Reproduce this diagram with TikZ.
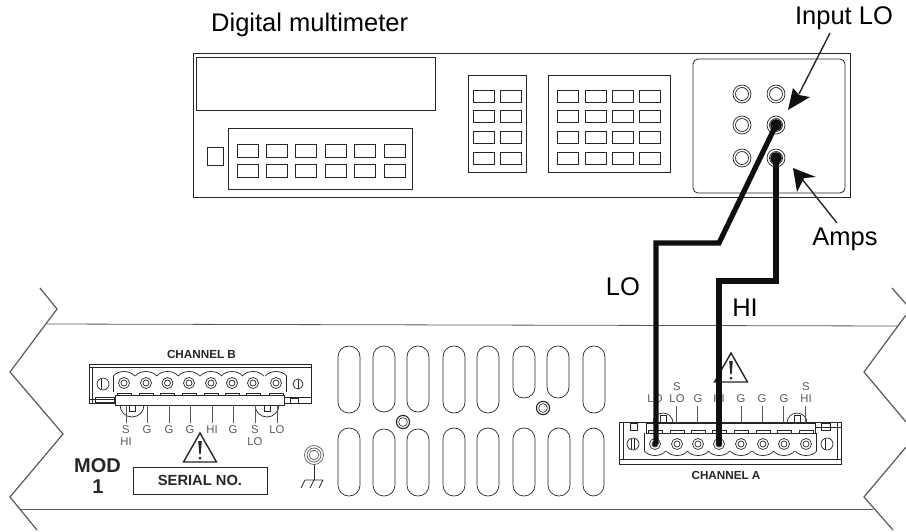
\documentclass[tikz,border=0pt]{standalone}
\usepackage{fontspec}
\setmainfont{Liberation Sans}
\definecolor{ink}{gray}{0.15}
\definecolor{soft}{gray}{0.35}
\tikzset{
  x=1pt,y=-1pt,
  panel/.style={draw=ink,line width=0.8pt},
  btn/.style={draw=ink,line width=0.9pt},
  edgeline/.style={draw=soft,line width=1.2pt,line join=miter},
  slot/.style={draw=ink,line width=0.7pt},
  wire/.style={draw=ink!40!black,line width=5.2pt,line join=miter},
  pointer/.style={draw=ink,line width=1.4pt},
  arrowfill/.style={fill=ink!40!black,draw=none},
  jack/.style={circle,draw=ink,line width=0.7pt,fill=white,inner sep=0pt,minimum size=18pt},
  big/.style={font=\fontsize{25.5}{28}\selectfont,inner sep=0pt,text=black},
  pinlabel/.style={font=\fontsize{11.3}{12}\selectfont,inner sep=0pt,text=soft},
  chancap/.style={font=\bfseries\fontsize{11.7}{12}\selectfont,inner sep=0pt,text=ink},
  term/.style={circle,draw=ink,line width=0.7pt,fill=white,inner sep=0pt,minimum size=11pt},
  lead/.style={draw=soft,line width=0.6pt},
}
\newcommand{\btnbox}[2]{\draw[btn] (#1,#2) rectangle +(21.5,12.5);}
\newcommand{\warn}[2]{%
  \draw[draw=ink,line width=1.4pt,fill=white,line join=miter] (#1,#2) -- ++(-16.5,29) -- ++(33,0) -- cycle;
  \fill[ink] (#1-1.8,#2+8) -- (#1+1.8,#2+8) -- (#1+0.7,#2+21) -- (#1-0.7,#2+21) -- cycle;
  \fill[ink] (#1,#2+25) circle[radius=1.5];}
\begin{document}
\begin{tikzpicture}
\useasboundingbox (0,0) rectangle (906,531);
\fill[white] (0,0) rectangle (906,531);
% ---------- multimeter
\node[big,anchor=west] (dmmlabel) at (211,25) {Digital multimeter};
\draw[panel] (193,53) rectangle (850,197);
\draw[panel] (196,57) rectangle (435,110);
\draw[panel] (207,147) rectangle (223,165);
\draw[panel] (228,128) rectangle (412,189);
\foreach \xx in {237,266,295,325,354,384}{\btnbox{\xx}{144.5}\btnbox{\xx}{164.5}}
\draw[panel] (468,75) rectangle (526,172);
\foreach \xx in {473,500}\foreach \yy in {90,110,131,152}{\btnbox{\xx}{\yy}}
\draw[panel] (548,75) rectangle (670,172);
\foreach \xx in {557,585,612,639}\foreach \yy in {90,110,131,152}{\btnbox{\xx}{\yy}}
\draw[panel,rounded corners=5pt] (693,59) rectangle (845,193);
\foreach \nm/\xx/\yy in {ja/742/94,jb/776/94,jc/742/125,jd/776/125,je/742/158,jf/776/158}{
  \node[jack] (\nm) at (\xx,\yy) {};
  \draw[ink,line width=0.7pt] (\xx,\yy) circle[radius=6.5];
}
\fill[ink!40!black] (jd.center) circle[radius=5.8];
\fill[ink!40!black] (jf.center) circle[radius=5.8];
% ---------- chassis
\draw[edgeline] (40,288) -- (57,309) -- (10,372) -- (63,434) -- (10,497) -- (37,530);
\draw[edgeline] (892,288) -- (906,304);
\draw[edgeline] (906,315) -- (864,372) -- (906,422);
\draw[edgeline] (906,447) -- (864,497) -- (893,530);
\draw[soft,line width=0.8pt] (47,324) -- (898,326);
\draw[soft,line width=0.8pt] (21,509) -- (873,509);
% ---------- slots
\foreach \xa/\xb/\ya/\yb in {338/360/346/413,373/395/346/412,407/429/346/412,443/465/346/413,477/499/346/413,513/535/346/398,547/569/346/398,583/605/346/413,
  338/360/428/496,373/395/429/496,407/429/429/496,443/465/428/496,477/499/428/496,513/535/428/496,548/570/428/496,583/604/428/496}{
  \draw[slot,rounded corners=10.9pt] (\xa,\ya) rectangle (\xb,\yb);
}
\foreach \xx/\yy in {403/422,543/408}{
  \draw[ink,line width=1.1pt] (\xx,\yy) circle[radius=6.6];
  \draw[ink,line width=0.6pt] (\xx,\yy) circle[radius=4.4];
}
% ---------- channel B
\node[chancap] (chb) at (201.5,354) {CHANNEL B};
\foreach \cx in {132,267}{
  \draw[ink,line width=0.7pt,fill=white] (\cx-12,405) arc[start angle=180,end angle=0,radius=12];
  \draw[ink,line width=0.7pt,fill=white] (\cx-3,405) rectangle (\cx+3,411);
}
\draw[ink,line width=0.7pt,fill=white] (89,364) rectangle (311,403);
\draw[ink,line width=0.7pt] (89,367.5) -- (311,367.5) (92.5,367.5) -- (92.5,403);
\draw[ink,line width=0.7pt] (90,399) -- (115,399) (95,397) rectangle (114,402);
\draw[ink,line width=0.7pt] (284,397) -- (311,397) (290,398) rectangle (298,403);
\foreach \cx in {132,267}{
  \draw[ink,line width=0.7pt,fill=white] (\cx-3,403) rectangle (\cx+3,411);
}
\draw[ink,line width=0.9pt,fill=white] (115,395) rectangle (284,405);
\foreach \cx in {124,146,167.5,189,211,232,253,276}{
  \draw[ink,line width=0.7pt] (\cx-10.7,376) .. controls (\cx-6,370) and (\cx+6,370) .. (\cx+10.7,376);
  \node[term] at (\cx,383) {};
  \draw[ink,line width=0.7pt] (\cx,383) circle[radius=3];
  \draw[ink,line width=0.6pt] (\cx-7,395) -- (\cx-7,393.5) -- (\cx+7,393.5) -- (\cx+7,395);
}
\draw[ink,line width=0.7pt] (113.3,376) -- (113.3,392) (286.7,376) -- (286.7,392);
\draw[ink,line width=0.7pt] (103,384) circle[radius=6];
\draw[ink,line width=1pt] (101,379) -- (101,389);
\draw[ink,line width=0.7pt] (298,384) circle[radius=5];
\draw[ink,line width=1pt] (298,379.5) -- (298,388.5);
\foreach \xx in {126,147,169,190,212,233,255,277}{\draw[lead] (\xx,405) -- (\xx,423);}
\foreach \xx/\yy/\tx in {126/430/S,126/442/HI,147/430/G,169/430/G,190/430/G,212/430/HI,233/430/G,255/430/S,255/442/LO,277/430/LO}{
  \node[pinlabel] at (\xx,\yy) {\tx};
}
% ---------- mod / serial
\node[font=\bfseries\fontsize{20}{22}\selectfont,inner sep=0pt,text=ink] (mod) at (97.5,466) {MOD};
\node[font=\bfseries\fontsize{20}{22}\selectfont,inner sep=0pt,text=ink] (modn) at (98,487) {1};
\warn{200}{433}
\node[draw=ink,line width=0.8pt,minimum width=134pt,minimum height=27pt,inner sep=0pt,
      font=\bfseries\fontsize{14.7}{16}\selectfont,text=ink] (serial) at (200,480.5) {SERIAL NO.};
% ---------- ground
\node[circle,draw=soft,line width=0.7pt,inner sep=0pt,minimum size=19pt] (gnd) at (314,455) {};
\draw[soft,line width=0.7pt] (gnd.center) circle[radius=7];
\draw[soft,line width=0.7pt] (gnd.center) circle[radius=4.8];
\coordinate (gndbar) at (314,480);
\draw[ink,line width=0.7pt] (gnd) -- (gndbar);
\draw[ink,line width=0.7pt] (305,480) -- (323,480) (305,480) -- (301,488) (314,480) -- (310,488) (323,480) -- (319,488);
% ---------- channel A
\foreach \cx in {663,797}{
  \draw[ink,line width=0.7pt,fill=white] (\cx-10,423) arc[start angle=180,end angle=360,radius=10];
  \draw[ink,line width=0.7pt,fill=white] (\cx-3,415) rectangle (\cx+3,423);
}
\draw[ink,line width=0.7pt,fill=white] (619,422) rectangle (841,464);
\draw[ink,line width=0.7pt] (619,459.5) -- (841,459.5) (623,422) -- (623,459.5) (837,422) -- (837,459.5);
\draw[ink,line width=0.7pt] (630,423) rectangle (637,430) (815,427) -- (841,427) (821,423) rectangle (830,430);
\draw[ink,line width=0.9pt,fill=white] (646,423) rectangle (815,433);
\foreach \nm/\cx in {ta1/655,ta2/677,ta3/698,ta4/719,ta5/741,ta6/763,ta7/784,ta8/806}{
  \draw[ink,line width=0.7pt] (\cx-10.7,451) .. controls (\cx-6,457) and (\cx+6,457) .. (\cx+10.7,451);
  \node[term] (\nm) at (\cx,444) {};
  \draw[ink,line width=0.7pt] (\cx,444) circle[radius=3];
  \draw[ink,line width=0.6pt] (\cx-7,433) -- (\cx-7,430.5) -- (\cx+7,430.5) -- (\cx+7,433);
}
\draw[ink,line width=0.7pt] (644.3,433) -- (644.3,451) (816.7,433) -- (816.7,451);
\draw[ink,line width=0.7pt] (633,444) circle[radius=6];
\draw[ink,line width=1pt] (631,439) -- (631,449) (634,439) -- (634,449);
\draw[ink,line width=0.7pt] (827,444) circle[radius=6];
\draw[ink,line width=1pt] (825,439) -- (825,449);
\foreach \xx in {676,697,719,741,762,783,805}{\draw[lead] (\xx,406) -- (\xx,423);}
\foreach \xx/\yy/\tx in {655/399/LO,677/387/S,677/399/LO,698/399/G,719/399/HI,741/399/G,762/399/G,784/399/G,806/387/S,806/399/HI}{
  \node[pinlabel] at (\xx,\yy) {\tx};
}
\node[chancap] (cha) at (726,475) {CHANNEL A};
\warn{731}{353}
% ---------- wires
\coordinate (loa) at (719,243);
\coordinate (lob) at (656,243);
\coordinate (hia) at (777,281);
\coordinate (hib) at (719,281);
\draw[wire] (jd.center) -- (loa) -- (lob) -- (lob |- ta1.center);
\draw[wire] (jf.center) -- (jf.center |- hia) -- (hib) -- (ta4.center);
\fill[ink!40!black] (ta1.center) circle[radius=2.6];
\fill[ink!40!black] (ta4.center) circle[radius=2.6];
\node[big,anchor=center] (lolabel) at (623,287) {LO};
\node[big,anchor=center] (hilabel) at (745,308) {HI};
% ---------- pointers
\node[big,anchor=center] (inputlo) at (844,18) {Input LO};
\node[big,anchor=center] (amps) at (845,239) {Amps};
\coordinate (ptrA) at (799,94);
\coordinate (ptrB) at (802,179);
\coordinate (srcA) at (830,33);
\coordinate (srcB) at (837,223);
\draw[pointer] (srcA) -- (ptrA);
\fill[arrowfill] (788,110) -- (810,97) -- (799,95) -- (793,88) -- cycle;
\draw[pointer] (srcB) -- (ptrB);
\fill[arrowfill] (793,168) -- (816,177) -- (804,178) -- (797,192) -- cycle;
\end{tikzpicture}
\end{document}
